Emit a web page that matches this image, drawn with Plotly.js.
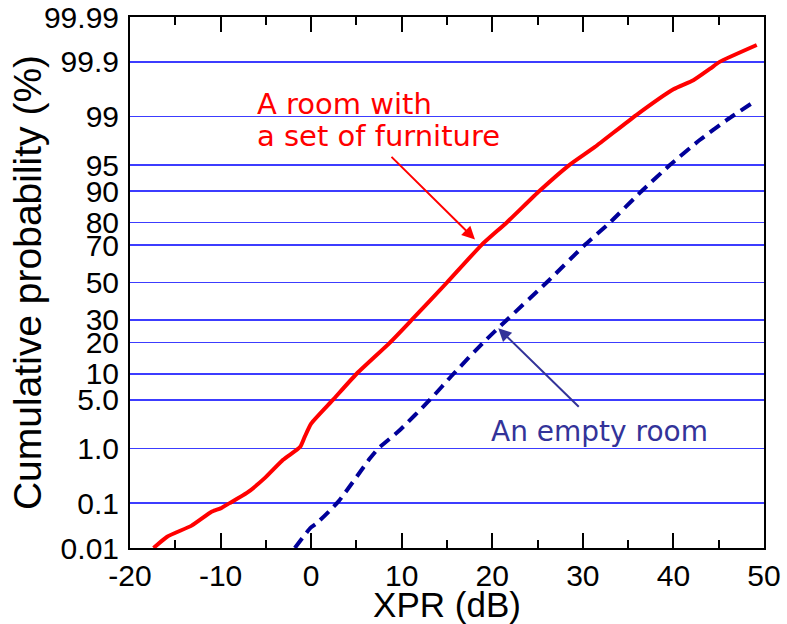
<!DOCTYPE html>
<html>
<head>
<meta charset="utf-8">
<script src="https://cdn.plot.ly/plotly-3.0.1.min.js"></script>
<style>html,body{margin:0;padding:0;background:#fff;}#chart{width:787px;height:624px;}</style>
</head>
<body>
<div id="chart"></div>
<script>
// ---- data (XPR in dB, cumulative probability in %) ----
const furnitureXPR  = [-17.4, -15.9, -13.2, -11.0, -10.0, -9.0, -7.1, -5.1, -3.1, -1.2, -0.7, 0.0, 2.4, 5.0, 8.7, 11.1, 15.0, 18.8, 21.6, 25.2, 28.5, 31.3, 35.9, 40.0, 42.2, 44.1, 45.1, 49.2];
const furnitureProb = [0.01, 0.0185, 0.033, 0.066, 0.078, 0.10, 0.16, 0.31, 0.65, 1.07, 1.54, 2.4, 5.0, 10, 20, 30, 50, 70, 80, 90, 95, 97.1, 99.05, 99.66, 99.77, 99.865, 99.9, 99.956];

const emptyXPR  = [-1.8, -0.1, 0.6, 3.0, 6.5, 7.4, 9.8, 13.1, 15.7, 19.0, 21.6, 26.0, 30.2, 33.0, 36.5, 39.6, 42.9, 45.9, 49.2];
const emptyProb = [0.01, 0.029, 0.037, 0.107, 0.69, 1.0, 1.94, 5.0, 10, 20, 30, 50, 70, 80, 90, 95, 97.7, 98.86, 99.47];

const probTickValues = [0.01, 0.1, 1, 5, 10, 20, 30, 50, 70, 80, 90, 95, 99, 99.9, 99.99];
const probTickLabels = ['0.01', '0.1', '1.0', '5.0', '10', '20', '30', '50', '70', '80', '90', '95', '99', '99.9', '99.99'];

const xprTickValues = [-20, -10, 0, 10, 20, 30, 40, 50];
const xprTickLabels = ['-20', '-10', '0', '10', '20', '30', '40', '50'];

// inverse standard normal CDF (Acklam) -> probit scale for the probability axis
function norminv(p) {
  const a = [-3.969683028665376e+01, 2.209460984245205e+02, -2.759285104469687e+02, 1.383577518672690e+02, -3.066479806614716e+01, 2.506628277459239e+00];
  const b = [-5.447609879822406e+01, 1.615858368580409e+02, -1.556989798598866e+02, 6.680131188771972e+01, -1.328068155288572e+01];
  const c = [-7.784894002430293e-03, -3.223964580411365e-01, -2.400758276161838e+00, -2.549671010229583e+00, 4.374664141464968e+00, 2.938163982698783e+00];
  const d = [7.784695709041462e-03, 3.224671290700398e-01, 2.445134137142996e+00, 3.754408661907416e+00];
  const plow = 0.02425, phigh = 1 - plow;
  let q, r;
  if (p < plow) {
    q = Math.sqrt(-2 * Math.log(p));
    return (((((c[0]*q+c[1])*q+c[2])*q+c[3])*q+c[4])*q+c[5]) / ((((d[0]*q+d[1])*q+d[2])*q+d[3])*q+1);
  } else if (p <= phigh) {
    q = p - 0.5; r = q*q;
    return (((((a[0]*r+a[1])*r+a[2])*r+a[3])*r+a[4])*r+a[5])*q / (((((b[0]*r+b[1])*r+b[2])*r+b[3])*r+b[4])*r+1);
  } else {
    q = Math.sqrt(-2 * Math.log(1 - p));
    return -(((((c[0]*q+c[1])*q+c[2])*q+c[3])*q+c[4])*q+c[5]) / ((((d[0]*q+d[1])*q+d[2])*q+d[3])*q+1);
  }
}
const probit = pct => norminv(pct / 100);

const traces = [
  {
    x: furnitureXPR, y: furnitureProb.map(probit),
    type: 'scatter', mode: 'lines', name: 'A room with a set of furniture',
    line: {color: '#ff0000', width: 4, shape: 'spline', smoothing: 0.5}
  },
  {
    x: emptyXPR, y: emptyProb.map(probit),
    type: 'scatter', mode: 'lines', name: 'An empty room',
    line: {color: '#000099', width: 4, dash: '12px,7px', shape: 'spline', smoothing: 0.5}
  }
];

const tickFont = {family: '"Liberation Sans", Arial, sans-serif', size: 30, color: '#000'};
const noteFont = '"DejaVu Sans", Verdana, sans-serif';

const layout = {
  width: 787, height: 624,
  margin: {l: 130, r: 23, t: 17, b: 76},
  paper_bgcolor: '#fff', plot_bgcolor: '#fff',
  showlegend: false,
  xaxis: {
    range: [-20, 50],
    tickmode: 'array', tickvals: xprTickValues, ticktext: xprTickLabels,
    ticks: 'inside', ticklen: 15, tickwidth: 2, tickcolor: '#000',
    minor: {dtick: 5, tick0: 0, ticks: 'inside', ticklen: 8, tickwidth: 2, tickcolor: '#000', showgrid: false},
    showline: true, linewidth: 2, linecolor: '#000', mirror: 'ticks',
    showgrid: false, zeroline: false,
    tickfont: tickFont,
    title: {text: 'XPR (dB)', font: {family: '"Liberation Sans", Arial, sans-serif', size: 35, color: '#000'}, standoff: 2}
  },
  yaxis: {
    range: [probit(0.01), probit(99.99)],
    tickmode: 'array', tickvals: probTickValues.map(probit), ticktext: probTickLabels,
    ticks: '', showline: true, linewidth: 2, linecolor: '#000', mirror: true,
    showgrid: true, gridcolor: '#3c3cff', gridwidth: 1.3, zeroline: false,
    tickfont: tickFont, ticklabelstandoff: 3,
    title: {text: 'Cumulative probability (%)', font: {family: '"Liberation Sans", Arial, sans-serif', size: 39, color: '#000'}}
  },
  annotations: [
    {xref: 'paper', yref: 'paper', x: (255 - 130) / 634, y: (548 - 104) / 531, xanchor: 'left', yanchor: 'middle',
     text: 'A room with', showarrow: false, font: {family: noteFont, size: 29, color: '#ff0000'}},
    {xref: 'paper', yref: 'paper', x: (255 - 130) / 634, y: (548 - 136) / 531, xanchor: 'left', yanchor: 'middle',
     text: 'a set of furniture', showarrow: false, font: {family: noteFont, size: 29, color: '#ff0000'}},
    {xref: 'paper', yref: 'paper', x: (489 - 130) / 634, y: (548 - 432) / 531, xanchor: 'left', yanchor: 'middle',
     text: 'An empty room', showarrow: false, font: {family: noteFont, size: 28, color: '#333399'}},
    {x: 18.09, y: probit(72.7), text: '', showarrow: true, ax: -85, ay: -84,
     arrowhead: 2, arrowsize: 1.3, arrowwidth: 2, arrowcolor: '#ff0000', standoff: 0},
    {x: 20.66, y: probit(26.1), text: '', showarrow: true, ax: 82, ay: 80,
     arrowhead: 2, arrowsize: 1.3, arrowwidth: 2, arrowcolor: '#333399', standoff: 0}
  ]
};

Plotly.newPlot('chart', traces, layout, {displayModeBar: false, staticPlot: true});
</script>
</body>
</html>
